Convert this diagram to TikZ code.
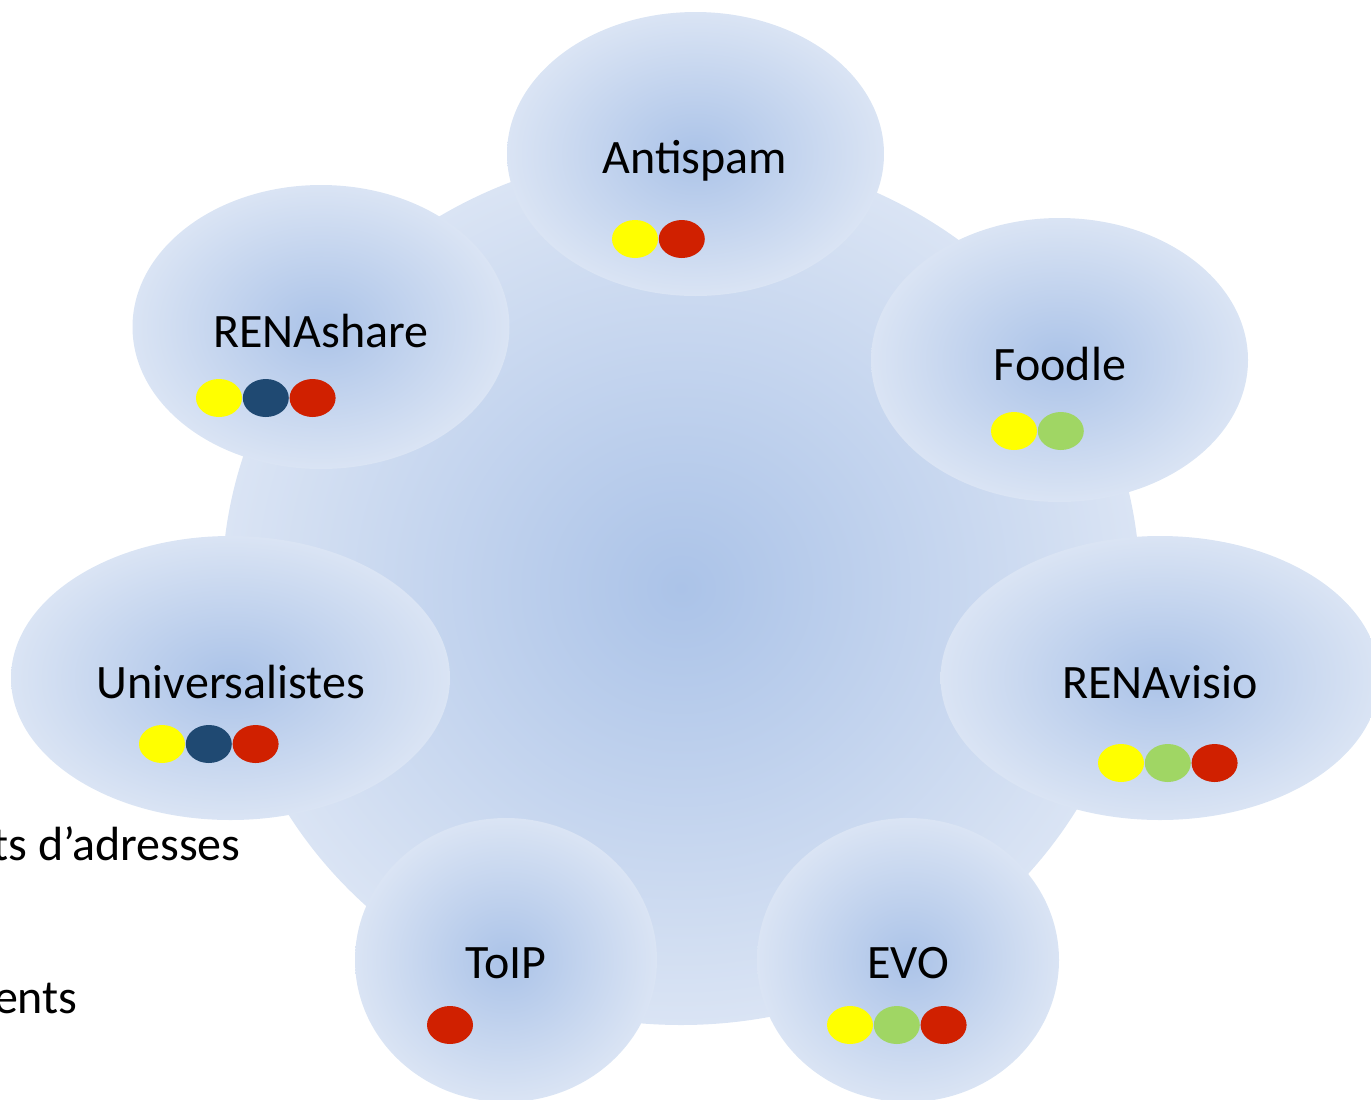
\documentclass[tikz,border=0pt]{standalone}
\usepackage{fontspec}
\setmainfont{Carlito}
\usepackage{tikz}
\usetikzlibrary{shapes.geometric,positioning}
\definecolor{bubblein}{RGB}{171,195,232}
\definecolor{bubbleout}{RGB}{218,228,244}
\definecolor{dotyellow}{RGB}{255,255,0}
\definecolor{dotblue}{RGB}{31,73,114}
\definecolor{dotred}{RGB}{208,32,0}
\definecolor{dotgreen}{RGB}{160,214,100}
\tikzset{
    %Define style for the big disc
    hubdisc/.style={
           ellipse,
           inner sep=0pt,
           minimum width=459pt,
           minimum height=437pt,
           inner color=bubblein,
           outer color=bubbleout},
    %Define style for the service bubbles
    bubble/.style={
           ellipse,
           inner sep=0pt,
           minimum width=188.5pt,
           minimum height=142pt,
           inner color=bubblein,
           outer color=bubbleout},
    widebubble/.style={
           bubble,
           minimum width=219.5pt},
    roundbubble/.style={
           bubble,
           minimum width=151pt},
    %Define style for labels
    svclabel/.style={
           anchor=base,
           inner sep=0pt,
           font=\fontsize{24}{29}\selectfont},
    %Define style for the dots
    svcdot/.style={
           ellipse,
           inner sep=0pt,
           minimum width=23pt,
           minimum height=19pt}
}
\begin{document}
\begin{tikzpicture}[x=0.5pt,y=-0.5pt]
\useasboundingbox (0,0) rectangle (1371,1099);
 %nodes
\node[hubdisc](hub) at (681,588){};
\node[bubble](antispam) at (695.5,154){};
\node[bubble](renashare) at (321,327){};
\node[bubble](foodle) at (1059.5,360){};
\node[widebubble](univ) at (230.5,678){};
\node[widebubble](renavisio) at (1160,678){};
\node[roundbubble](toip) at (506,960){};
\node[roundbubble](evo) at (908,960){};
 %labels
\node[svclabel](antispamtxt) at (695,173){Antispam};
\node[svclabel](renasharetxt) at (321,347){RENAshare};
\node[svclabel](foodletxt) at (1060,380){Foodle};
\node[svclabel](univtxt) at (231,698){Universalistes};
\node[svclabel](renavisiotxt) at (1160,698){RENAvisio};
\node[svclabel](toiptxt) at (506,978){ToIP};
\node[svclabel](evotxt) at (908,978){EVO};
\node[svclabel, anchor=base east](listestxt) at (241,860){ts d’adresses};
\node[svclabel, anchor=base east](entstxt) at (78,1013){ents};
 %dots
\node[svcdot, fill=dotyellow](a1) at (635,239){};
\node[svcdot, fill=dotred, right=0pt of a1](a2){};
\node[svcdot, fill=dotyellow](s1) at (219,398){};
\node[svcdot, fill=dotblue, right=0pt of s1](s2){};
\node[svcdot, fill=dotred, right=0pt of s2](s3){};
\node[svcdot, fill=dotyellow](f1) at (1014,431){};
\node[svcdot, fill=dotgreen, right=0pt of f1](f2){};
\node[svcdot, fill=dotyellow](u1) at (162,744){};
\node[svcdot, fill=dotblue, right=0pt of u1](u2){};
\node[svcdot, fill=dotred, right=0pt of u2](u3){};
\node[svcdot, fill=dotyellow](v1) at (1121,763){};
\node[svcdot, fill=dotgreen, right=0pt of v1](v2){};
\node[svcdot, fill=dotred, right=0pt of v2](v3){};
\node[svcdot, fill=dotred](t1) at (450,1025){};
\node[svcdot, fill=dotyellow](e1) at (850,1025){};
\node[svcdot, fill=dotgreen, right=0pt of e1](e2){};
\node[svcdot, fill=dotred, right=0pt of e2](e3){};
\end{tikzpicture}
\end{document}
